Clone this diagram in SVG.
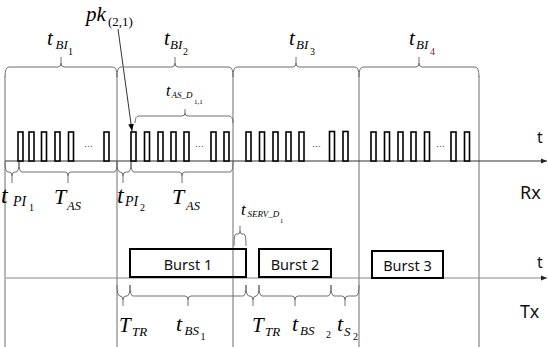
<svg xmlns="http://www.w3.org/2000/svg" width="548" height="347" viewBox="0 0 548 347">
<defs>
<style>
.vl{stroke:#6e6e6e;stroke-width:1;fill:none}
.br{stroke:#6e6e6e;stroke-width:1;fill:none}
.ax{stroke:#333;stroke-width:1.2;fill:none}
.axt{stroke:#888;stroke-width:1.2;fill:none}
.p{fill:#fff;stroke:#000;stroke-width:1.6}
.bx{fill:none;stroke:#000;stroke-width:2}
.it{font-family:"Liberation Serif",serif;font-style:italic;fill:#000}
.up{font-family:"Liberation Serif",serif;font-style:normal;fill:#000}
.sn{font-family:"Noto Sans","Liberation Sans",sans-serif;fill:#111}
.dots{font-family:"Liberation Sans",sans-serif;font-size:9px;fill:#333}
</style>
<marker id="ah" viewBox="0 0 10 10" refX="10" refY="5" markerWidth="6" markerHeight="6" orient="auto" markerUnits="userSpaceOnUse">
<path d="M0,1 L10,5 L0,9 z" fill="#222"/>
</marker>
<marker id="pa" viewBox="0 0 10 10" refX="10" refY="5" markerWidth="7" markerHeight="7" orient="auto" markerUnits="userSpaceOnUse">
<path d="M0,1 L10,5 L0,9 z" fill="#000"/>
</marker>
</defs>
<rect width="548" height="347" fill="#fff"/>

<g id="grid">
<line class="vl" x1="5" y1="76" x2="5" y2="347"/>
<line class="vl" x1="117" y1="76" x2="117" y2="347"/>
<line class="vl" x1="233" y1="76" x2="233" y2="347"/>
<line class="vl" x1="359" y1="76" x2="359" y2="347"/>
<line class="vl" x1="479" y1="76" x2="479" y2="347"/>
</g>

<g id="connectors">
<line class="ax" x1="5" y1="161" x2="547" y2="161" marker-end="url(#ah)"/>
<line class="axt" x1="6" y1="278" x2="547" y2="278" marker-end="url(#ah)"/>
<line x1="118" y1="29" x2="132" y2="131" stroke="#333" stroke-width="1" marker-end="url(#pa)"/>
</g>

<g id="top-braces">
<path class="br" d="M5 77 Q5 67 9 67 H58 Q61 67 61 63 V57 M61 63 Q61 67 64 67 H113 Q117 67 117 77"/>
<path class="br" d="M117 77 Q117 67 121 67 H172 Q175 67 175 63 V57 M175 63 Q175 67 178 67 H229 Q233 67 233 77"/>
<path class="br" d="M233 77 Q233 67 237 67 H293 Q296 67 296 63 V57 M296 63 Q296 67 299 67 H355 Q359 67 359 77"/>
<path class="br" d="M359 77 Q359 67 363 67 H416 Q419 67 419 63 V57 M419 63 Q419 67 422 67 H475 Q479 67 479 77"/>
<path class="br" d="M135 123 Q135 116 139 116 H182 Q185 116 185 113 V109 M185 113 Q185 116 188 116 H229 Q233 116 233 123"/>
<path class="br" d="M234 246 Q234 234 236 234 H238 Q240 234 240 231 V226 M240 231 Q240 234 242 234 H244 Q246 234 246 246"/>
</g>

<g id="rx-braces">
<path class="br" d="M5 162 Q5 172 8 172 H9 Q12 172 12 176 V183 M12 176 Q12 172 15 172 H16 Q19 172 19 162"/>
<path class="br" d="M19 162 Q19 172 22 172 H65 Q68 172 68 176 V183 M68 176 Q68 172 71 172 H114 Q117 172 117 162"/>
<path class="br" d="M117 162 Q117 172 120 172 H120 Q123 172 123 176 V183 M123 176 Q123 172 126 172 H128 Q131 172 131 162"/>
<path class="br" d="M131 162 Q131 172 134 172 H179 Q182 172 182 176 V183 M182 176 Q182 172 185 172 H230 Q233 172 233 162"/>
</g>

<g id="tx-braces">
<path class="br" d="M117 285 Q117 296 120 296 H120 Q123 296 123 300 V306 M123 300 Q123 296 126 296 H127 Q130 296 130 285"/>
<path class="br" d="M130 285 Q130 296 133 296 H185 Q188 296 188 300 V306 M188 300 Q188 296 191 296 H243 Q246 296 246 285"/>
<path class="br" d="M246 285 Q246 296 249 296 H250 Q253 296 253 300 V306 M253 300 Q253 296 256 296 H256 Q259 296 259 285"/>
<path class="br" d="M259 285 Q259 296 262 296 H292 Q295 296 295 300 V306 M295 300 Q295 296 298 296 H328 Q331 296 331 285"/>
<path class="br" d="M331 285 Q331 296 334 296 H342 Q345 296 345 300 V306 M345 300 Q345 296 348 296 H356 Q359 296 359 285"/>
</g>

<g id="pulses-1">
<rect class="p" x="18" y="132" width="5" height="29"/>
<rect class="p" x="29" y="132" width="5" height="29"/>
<rect class="p" x="41.5" y="132" width="5" height="29"/>
<rect class="p" x="55" y="132" width="5" height="29"/>
<rect class="p" x="68.5" y="132" width="5" height="29"/>
<text class="dots" x="84" y="149">···</text>
<rect class="p" x="104" y="132" width="5" height="29"/>
</g>
<g id="pulses-2">
<rect class="p" x="131" y="132" width="5" height="29"/>
<rect class="p" x="144.5" y="132" width="5" height="29"/>
<rect class="p" x="158" y="132" width="5" height="29"/>
<rect class="p" x="171" y="132" width="5" height="29"/>
<rect class="p" x="184" y="132" width="5" height="29"/>
<text class="dots" x="195" y="149">···</text>
<rect class="p" x="211" y="132" width="5" height="29"/>
<rect class="p" x="224" y="132" width="5" height="29"/>
</g>
<g id="pulses-3">
<rect class="p" x="246" y="132" width="5" height="29"/>
<rect class="p" x="259.5" y="132" width="5" height="29"/>
<rect class="p" x="273" y="132" width="5" height="29"/>
<rect class="p" x="286" y="132" width="5" height="29"/>
<rect class="p" x="299" y="132" width="5" height="29"/>
<text class="dots" x="312" y="149">···</text>
<rect class="p" x="329.5" y="131.5" width="5" height="29.5"/>
<rect class="p" x="343" y="131.5" width="5" height="29.5"/>
</g>
<g id="pulses-4">
<rect class="p" x="371" y="132" width="5" height="29"/>
<rect class="p" x="384.5" y="132" width="5" height="29"/>
<rect class="p" x="398" y="132" width="5" height="29"/>
<rect class="p" x="411" y="132" width="5" height="29"/>
<rect class="p" x="424.5" y="132" width="5" height="29"/>
<text class="dots" x="436" y="149">···</text>
<rect class="p" x="451" y="132" width="5" height="29"/>
<rect class="p" x="464.5" y="132" width="5" height="29"/>
</g>

<g id="burst-1">
<rect class="bx" x="130" y="249" width="116" height="28"/>
<text class="sn" x="188" y="270" font-size="14.5" text-anchor="middle">Burst 1</text>
</g>
<g id="burst-2">
<rect class="bx" x="259" y="249" width="72" height="28"/>
<text class="sn" x="295" y="270" font-size="14.5" text-anchor="middle">Burst 2</text>
</g>
<g id="burst-3">
<rect class="bx" x="372" y="251" width="71" height="27"/>
<text class="sn" x="407.5" y="271" font-size="14.5" text-anchor="middle">Burst 3</text>
</g>

<g id="labels-top">
<text class="it" x="47" y="45" font-size="21">t</text>
<text class="it" x="55.5" y="49" font-size="13">BI</text>
<text class="up" x="68" y="55" font-size="10">1</text>
<text class="it" x="164" y="45" font-size="21">t</text>
<text class="it" x="170" y="49" font-size="13">BI</text>
<text class="up" x="183" y="55" font-size="10">2</text>
<text class="it" x="289" y="45" font-size="21">t</text>
<text class="it" x="296" y="49" font-size="13">BI</text>
<text class="up" x="310" y="55" font-size="10">3</text>
<text class="it" x="409" y="45" font-size="21">t</text>
<text class="it" x="416" y="49" font-size="13">BI</text>
<text class="up" x="430" y="55" font-size="10" fill="#6b1f2f" style="fill:#6b1f2f">4</text>
<text class="it" x="86" y="21" font-size="21">pk</text>
<text class="up" x="108" y="26" font-size="13">(2,1)</text>
<text class="it" x="166" y="96" font-size="16">t</text>
<text class="it" x="171.5" y="98" font-size="9">AS_D</text>
<text class="up" x="194" y="104" font-size="7">1,1</text>
</g>

<g id="labels-rx">
<text class="it" x="1" y="203" font-size="24">t</text>
<text class="it" x="13" y="206" font-size="14">PI</text>
<text class="up" x="29" y="211" font-size="10">1</text>
<text class="it" x="54" y="204" font-size="22">T</text>
<text class="it" x="67" y="210" font-size="12.5">AS</text>
<text class="it" x="117" y="203" font-size="24">t</text>
<text class="it" x="125" y="206" font-size="14">PI</text>
<text class="up" x="140" y="211" font-size="10">2</text>
<text class="it" x="172" y="204" font-size="22">T</text>
<text class="it" x="186" y="210" font-size="12.5">AS</text>
<text class="it" x="241" y="215" font-size="17">t</text>
<text class="it" x="247.5" y="217" font-size="9">SERV_D</text>
<text class="up" x="280" y="223" font-size="6.5">1</text>
</g>

<g id="labels-tx">
<text class="it" x="119" y="332" font-size="21">T</text>
<text class="it" x="132" y="336" font-size="13">TR</text>
<text class="it" x="176" y="331" font-size="22">t</text>
<text class="it" x="184.5" y="335" font-size="13">BS</text>
<text class="up" x="200.5" y="340" font-size="10">1</text>
<text class="it" x="252" y="332" font-size="21">T</text>
<text class="it" x="265" y="336" font-size="13">TR</text>
<text class="it" x="292" y="331" font-size="22">t</text>
<text class="it" x="300" y="335" font-size="13">BS</text>
<text class="up" x="326" y="338" font-size="10">2</text>
<text class="it" x="337" y="331" font-size="22">t</text>
<text class="it" x="344" y="336" font-size="13">S</text>
<text class="up" x="353" y="340" font-size="10">2</text>
</g>

<g id="axis-labels">
<text class="sn" x="537" y="143" font-size="16">t</text>
<text class="sn" x="520" y="199" font-size="18">Rx</text>
<text class="sn" x="537" y="268" font-size="16">t</text>
<text class="sn" x="520" y="318" font-size="18">Tx</text>
</g>
</svg>
